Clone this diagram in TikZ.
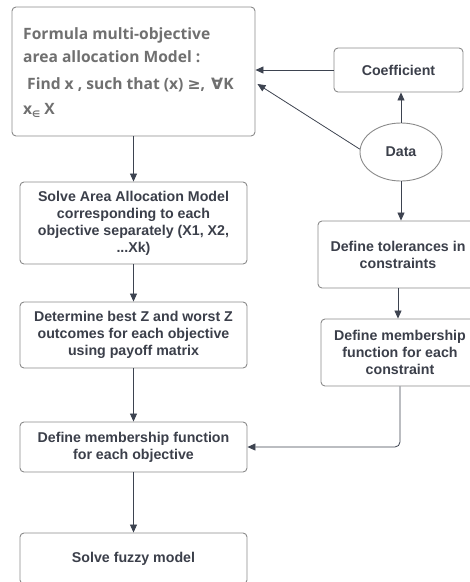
\documentclass[tikz,border=0pt]{standalone}
\usepackage{fontspec}
\setmainfont{Liberation Sans}
\newfontfamily\titlefont{Open Sans}
\newfontfamily\symfont{DejaVu Sans}
\usetikzlibrary{arrows.meta,shapes.geometric,calc}
\definecolor{txt}{HTML}{3B3F4A}
\definecolor{gtxt}{HTML}{707070}
\definecolor{bord}{HTML}{8A8A8A}
\definecolor{conn}{HTML}{3D4350}
\tikzset{
  box/.style={draw=bord, line width=0.9pt, rounded corners=4pt, fill=white, inner sep=0pt,
    align=center, text=txt, font=\bfseries\fontsize{14.2}{17}\selectfont},
  conn/.style={draw=conn, line width=0.8pt, -{Triangle[length=8pt,width=7pt]}},
  ttl/.style={anchor=west, inner sep=0pt, text=gtxt, font=\titlefont\bfseries\fontsize{15.6}{18}\selectfont}
}
\begin{document}
\begin{tikzpicture}[x=1pt,y=-1pt]
\useasboundingbox (0,0) rectangle (470,582);
\clip (0,0) rectangle (470,582);
% left column
\node[box, minimum width=243pt, minimum height=129pt] (box1) at (133.5,71.5) {};
\node[ttl] (t1) at (23,35) {Formula multi-objective};
\node[ttl] (t2) at (23,57) {area allocation Model :};
\node[ttl] (t3) at (23,85) {\hspace{4pt}Find x , such that (x) {\symfont\bfseries ≥},\hspace{6pt}{\symfont\bfseries ∀}K};
\node[ttl] (t4) at (23,110) {x\raisebox{-3pt}{\symfont\fontsize{9}{9}\selectfont ∈} X};
\node[box, minimum width=227pt, minimum height=82pt] (box2) at (133.5,223)
  {Solve Area Allocation Model\\corresponding to each\\objective separately (X1, X2,\\...Xk)};
\node[box, minimum width=227pt, minimum height=66pt] (box3) at (133.5,335)
  {Determine best Z and worst Z\\outcomes for each objective\\using payoff matrix};
\node[box, minimum width=227pt, minimum height=50pt] (box4) at (133.5,447)
  {Define membership function\\for each objective};
\node[box, minimum width=227pt, minimum height=51pt] (box5) at (133.5,558.5)
  {Solve fuzzy model};
% right column
\node[box, minimum width=129pt, minimum height=44pt] (coef) at (398.5,70) {Coefficient};
\node[draw=bord, line width=0.9pt, ellipse, minimum width=82pt, minimum height=58pt, inner sep=0pt,
  text=txt, font=\bfseries\fontsize{14.2}{17}\selectfont] (data) at (401,152) {Data};
\node[box, minimum width=160pt, minimum height=67pt] (tol) at (398,254.5)
  {Define tolerances in\\constraints};
\node[box, minimum width=158pt, minimum height=67pt] (memb) at (400,352.5)
  {Define membership\\function for each\\constraint};
% connectors
\draw[conn] (box1.south) -- (box2.north);
\draw[conn] (box2.south) -- (box3.north);
\draw[conn] (box3.south) -- (box4.north);
\draw[conn] (box4.south) -- (box5.north);
\draw[conn] (data.north) -- (data.north |- coef.south);
\draw[conn] (data.south) -- (data.south |- tol.north);
\draw[conn] (tol.south) -- (tol.south |- memb.north);
\draw[conn, rounded corners=5pt] (memb.south) -- (memb.south |- box4.east) -- (box4.east);
\draw[conn] (coef.west) -- (coef.west -| box1.east);
\coordinate (dtip) at ($(box1.east)+(2,12.5)$);
\draw[conn] (data.176) -- (dtip);
\end{tikzpicture}
\end{document}
